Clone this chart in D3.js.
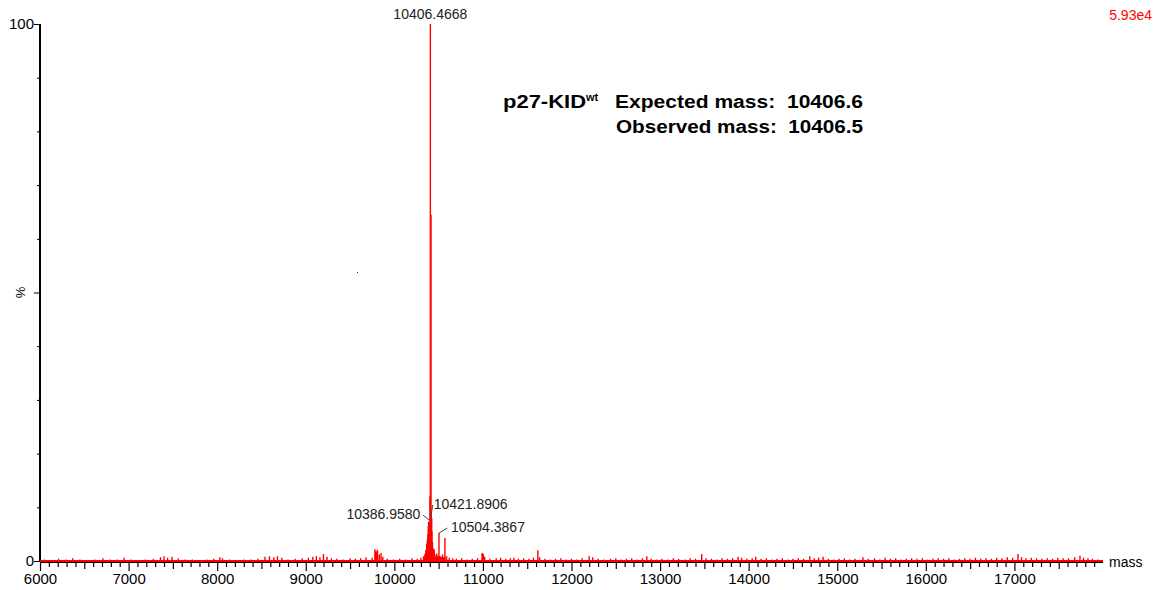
<!DOCTYPE html>
<html>
<head>
<meta charset="utf-8">
<script src="https://cdn.jsdelivr.net/npm/d3@7"></script>
<style>
  body { margin: 0; background: #fff; }
  svg { display: block; font-family: "Liberation Sans", Arial, sans-serif; }
</style>
</head>
<body>
<div id="chart"></div>
<script>
// mass spectrum of p27-KID wt, sticks as [mass, relative intensity %]
const spectrum = [
  [6050,0.3],[6120,0.2],[6210,0.4],[6290,0.3],[6370,0.5],[6450,0.3],[6530,0.2],[6620,0.3],[6710,0.5],[6790,0.3],
  [6870,0.3],[6950,0.6],[7030,0.3],[7110,0.2],[7190,0.3],[7280,0.4],[7360,0.7],[7400,0.9],[7440,0.6],[7490,0.8],
  [7560,0.5],[7640,0.3],[7720,0.3],[7800,0.2],[7880,0.3],[7960,0.4],[8030,0.7],[8060,0.5],[8140,0.3],[8220,0.2],
  [8300,0.3],[8380,0.3],[8460,0.4],[8540,0.8],[8590,0.9],[8640,0.7],[8680,0.9],[8730,0.6],[8800,0.3],[8880,0.4],
  [8960,0.5],[9030,0.6],[9080,0.8],[9120,0.9],[9160,0.7],[9200,1.3],[9240,0.8],[9290,0.5],[9350,0.4],[9420,0.3],
  [9500,0.5],[9560,0.4],[9620,0.5],[9680,0.7],[9750,0.6],[9780,2.2],[9795,1.8],[9810,2.1],[9830,1.2],[9850,1.5],
  [9870,0.8],[9920,0.4],[9990,0.3],[10060,0.4],[10130,0.3],[10200,0.5],[10260,0.4],[10300,0.6],[10330,0.9],[10345,1.3],
  [10355,2.0],[10365,3.2],[10372,4.0],[10378,5.0],[10383,6.5],[10387,7.3],[10392,6.8],[10397,6.0],[10401,12],[10406.5,100],
  [10414,64.5],[10417,8.5],[10419,7.6],[10422,8.0],[10426,5.5],[10431,3.5],[10436,2.4],[10442,1.6],[10450,2.2],[10458,1.2],
  [10468,0.8],[10478,1.4],[10490,1.0],[10504,5.2],[10515,0.9],[10530,0.8],[10545,1.2],[10560,0.7],[10571,4.3],[10590,0.9],
  [10620,0.6],[10660,0.5],[10700,0.4],[10760,0.5],[10820,0.3],[10880,0.4],[10940,0.5],[10990,1.5],[11005,1.3],[11020,0.8],
  [11080,0.4],[11150,0.5],[11200,0.6],[11260,0.4],[11310,0.5],[11350,0.6],[11400,0.4],[11460,0.5],[11520,0.4],[11570,0.6],
  [11620,2.0],[11640,0.7],[11700,0.4],[11760,0.3],[11820,0.4],[11880,0.5],[11940,0.3],[12000,0.4],[12060,0.3],[12120,0.5],
  [12200,0.9],[12240,0.7],[12300,0.4],[12370,0.3],[12440,0.4],[12500,0.5],[12560,0.3],[12620,0.4],[12680,0.5],[12740,0.3],
  [12800,0.5],[12850,0.9],[12900,0.4],[12960,0.3],[13020,0.4],[13090,0.3],[13150,0.5],[13210,0.4],[13280,0.3],[13340,0.5],
  [13400,0.4],[13470,1.3],[13520,0.5],[13580,0.4],[13640,0.3],[13700,0.5],[13760,0.4],[13820,0.5],[13880,0.8],[13920,0.6],
  [13980,0.4],[14040,0.5],[14080,0.8],[14140,0.4],[14200,0.5],[14260,0.3],[14320,0.4],[14380,0.5],[14440,0.3],[14500,0.4],
  [14560,0.5],[14620,0.4],[14690,0.9],[14740,0.5],[14790,0.6],[14840,0.8],[14900,0.4],[14960,0.3],[15020,0.4],[15080,0.5],
  [15140,0.3],[15200,0.4],[15290,0.7],[15350,0.4],[15420,0.5],[15480,0.3],[15540,0.6],[15600,0.4],[15660,0.5],[15720,0.3],
  [15780,0.4],[15840,0.5],[15900,0.4],[15960,0.5],[16020,0.3],[16080,0.4],[16140,0.5],[16200,0.4],[16260,0.5],[16320,0.3],
  [16380,0.4],[16440,0.5],[16500,0.4],[16560,0.6],[16620,0.4],[16680,0.5],[16740,0.4],[16800,0.6],[16860,0.5],[16920,0.7],
  [16980,0.6],[17040,1.3],[17080,0.7],[17130,0.5],[17190,0.6],[17250,0.5],[17310,0.4],[17370,0.5],[17430,0.4],[17490,0.6],
  [17550,0.5],[17610,0.5],[17680,0.7],[17740,1.0],[17780,0.6],[17830,0.5],[17880,0.4],[17940,0.3]
]

// labelled peaks: text, mass, intensity at the leader end, label offset
const peakLabels = [
  {text: "10406.4668", mass: 10406.5, at: 100, dx: 0,  dy: -5,  anchor: "middle", leader: false},
  {text: "10386.9580", mass: 10396,   at: 7.6, dx: -9, dy: -5,  anchor: "end",    leader: true},
  {text: "10421.8906", mass: 10410,   at: 8,   dx: 3,  dy: -13, anchor: "start",  leader: true},
  {text: "10504.3867", mass: 10504,   at: 5.2, dx: 12, dy: -5,  anchor: "start",  leader: true}
]

const massTicks = d3.range(6000, 18000, 100)
const pctTicks = d3.range(0, 101, 10)
const maxCounts = "5.93e4"

const W = 1157, H = 590
const x = d3.scaleLinear().domain([6000, 18000]).range([40, 1103])
const y = d3.scaleLinear().domain([0, 100]).range([561, 24])

const svg = d3.select("#chart").append("svg")
    .attr("width", W)
    .attr("height", H)

// y axis
const yAxis = svg.append("g")
    .attr("transform", "translate(" + x(6000) + ",0)")
    .call(d3.axisLeft(y).tickValues(pctTicks).tickSize(3)
        .tickFormat(d => d == 0 || d == 100 ? d : ""))
yAxis.select(".domain").attr("stroke", "#000").attr("stroke-width", 2).attr("d", "M0," + y(100) + "V" + (y(0) + 1))
yAxis.selectAll(".tick line").attr("x2", d => d % 50 == 0 ? -6 : -3)
yAxis.selectAll(".tick text").attr("x", -6).style("font-size", "15px").style("font-family", "Liberation Sans, Arial").attr("fill", "#000")

svg.append("text")
    .attr("transform", "translate(20," + y(50) + ") rotate(-90)")
    .attr("text-anchor", "middle")
    .attr("dy", "0.35em")
    .style("font-size", "13px")
    .text("%")

// x axis
const xAxis = svg.append("g")
    .attr("transform", "translate(0," + (y(0) + 1) + ")")
    .call(d3.axisBottom(x).tickValues(massTicks).tickSizeOuter(0)
        .tickFormat(d => d % 1000 == 0 ? d : ""))
xAxis.select(".domain").attr("stroke", "#000").attr("stroke-width", 2)
    .attr("d", "M" + x(6000) + ",0H" + x(18000))
xAxis.selectAll(".tick line")
    .attr("y2", d => d % 1000 == 0 ? 9 : d % 500 == 0 ? 7 : 5)
    .attr("stroke-width", 1.2)
xAxis.selectAll(".tick text").attr("y", 11).style("font-size", "15px")
    .style("font-family", "Liberation Sans, Arial").attr("fill", "#000")

svg.append("text")
    .attr("x", 1109).attr("y", y(0) + 6)
    .style("font-size", "14px")
    .text("mass")

// spectrum sticks
svg.append("path")
    .attr("d", spectrum.map(d => "M" + x(d[0]) + "," + y(0) + "V" + y(d[1])).join(""))
    .attr("stroke", "#ff0000")
    .attr("stroke-width", 1.4)
    .attr("fill", "none")

// baseline trace
svg.append("line")
    .attr("x1", x(6000)).attr("x2", x(18000))
    .attr("y1", y(0)).attr("y2", y(0))
    .attr("stroke", "#ff0000")
    .attr("stroke-width", 2)

// peak labels
const pl = svg.append("g").selectAll("g").data(peakLabels).enter().append("g")
pl.filter(d => d.leader).append("line")
    .attr("x1", d => x(d.mass)).attr("y1", d => y(d.at))
    .attr("x2", d => x(d.mass) + d.dx * 0.7).attr("y2", d => y(d.at) + d.dy)
    .attr("stroke", "#444").attr("stroke-width", 1)
pl.append("text")
    .attr("x", d => x(d.mass) + d.dx)
    .attr("y", d => y(d.at) + d.dy + (d.leader ? 4 : 0))
    .attr("text-anchor", d => d.anchor)
    .style("font-size", "14px")
    .attr("fill", "#222")
    .text(d => d.text)

// full-scale counts
svg.append("text")
    .attr("x", 1152).attr("y", 20)
    .attr("text-anchor", "end")
    .attr("fill", "#ff0000")
    .style("font-size", "14px")
    .text(maxCounts)

// stray dot in the plot area
svg.append("rect").attr("x", 357).attr("y", 272).attr("width", 1).attr("height", 1).attr("fill", "#333")

// annotation (non-breaking spaces keep the double gap)
const note = svg.append("g").style("font-weight", "bold").style("font-size", "18px")
const name = note.append("text").attr("x", 503).attr("y", 108)
name.append("tspan").attr("textLength", 83).attr("lengthAdjust", "spacingAndGlyphs").text("p27-KID")
name.append("tspan").attr("dy", -7).style("font-size", "11px").text("wt")
note.append("text").attr("x", 863).attr("y", 108).attr("text-anchor", "end")
    .attr("textLength", 248).attr("lengthAdjust", "spacingAndGlyphs")
    .text("Expected mass:\u00a0\u00a010406.6")
note.append("text").attr("x", 863).attr("y", 133).attr("text-anchor", "end")
    .attr("textLength", 247).attr("lengthAdjust", "spacingAndGlyphs")
    .text("Observed mass:\u00a0\u00a010406.5")
</script>
</body>
</html>
